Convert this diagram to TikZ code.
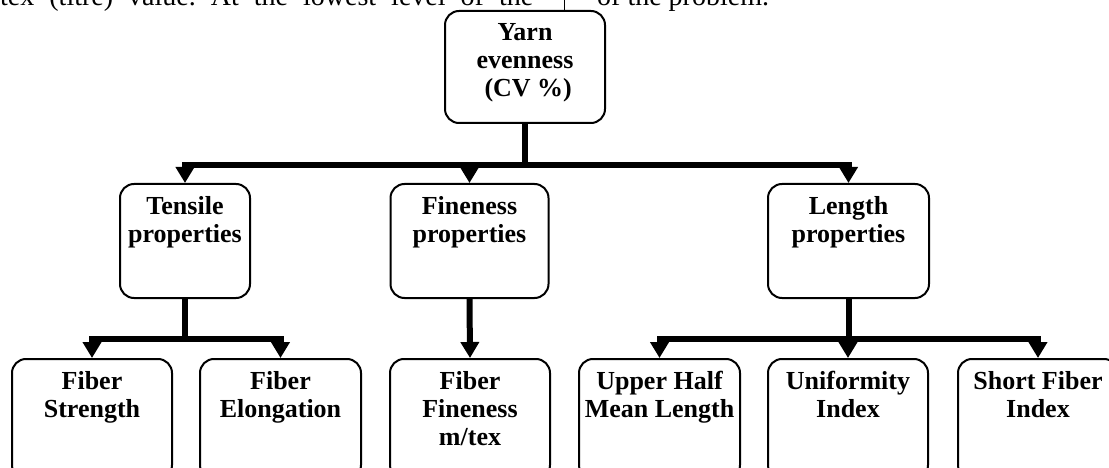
\documentclass[tikz,border=0pt]{standalone}
\usepackage{fontspec}
\setmainfont{Liberation Serif}
\usetikzlibrary{arrows.meta}
\frenchspacing

% box content: width, height, lines (first baseline 30pt below the top edge)
\newcommand\boxlines[3]{\parbox[c][#2][t]{#1}{\centering\rule{0pt}{30pt}#3}}

\tikzset{
  prop/.style={draw, line width=2pt, rounded corners=14pt, inner sep=0pt,
    anchor=north, font=\bfseries\fontsize{26}{28}\selectfont},
  link/.style={line width=6pt, -{Triangle[length=16pt,width=18pt]}},
  bodytext/.style={anchor=base west, inner sep=0pt, font=\fontsize{28}{32}\selectfont},
}

\begin{document}
\begin{tikzpicture}[x=1pt,y=-1pt]
\useasboundingbox (0,0) rectangle (1109,468);
\clip (0,0) rectangle (1109,468);

% running text of the page above the chart
\node[bodytext] (lefttext) at (0,5.5) {\makebox[533pt][s]{tex (titre) value. At the lowest level of the}};
\node[bodytext] (righttext) at (597,5.5) {of the problem.};
\coordinate (sepTop) at (564.5,0);
\coordinate (sepBot) at (564.5,10);
\draw[line width=1.2pt] (sepTop) -- (sepBot);

% top level
\node[prop] (root) at (525,10) {\boxlines{160pt}{112pt}{Yarn\\evenness\\~(CV \%)}};

% middle level
\node[prop] (tensile)  at (185,183)   {\boxlines{130pt}{114pt}{Tensile\\properties}};
\node[prop] (fineness) at (469.5,183) {\boxlines{158pt}{114pt}{Fineness\\properties}};
\node[prop] (length)   at (848.5,183) {\boxlines{161pt}{114pt}{Length\\properties}};

% lowest level
\node[prop] (strength)   at (92,358)    {\boxlines{160pt}{120pt}{Fiber\\Strength}};
\node[prop] (elongation) at (280.5,358) {\boxlines{161pt}{120pt}{Fiber\\Elongation}};
\node[prop] (fibfine)    at (470,358)   {\boxlines{160pt}{120pt}{Fiber\\Fineness\\m/tex}};
\node[prop] (uhml)       at (659.5,358) {\boxlines{161pt}{120pt}{Upper Half\\Mean Length}};
\node[prop] (ui)         at (848,358)   {\boxlines{160pt}{120pt}{Uniformity\\Index}};
\node[prop] (sfi)        at (1038,358)  {\boxlines{160pt}{120pt}{Short Fiber\\Index}};

% connectors
\draw[link] (root.south) -- ++(0,41) -| (tensile.north);
\draw[link] (root.south) -- ++(0,41) -| (fineness.north);
\draw[link] (root.south) -- ++(0,41) -| (length.north);

\draw[link] (tensile.south) -- ++(0,39.5) -| (strength.north);
\draw[link] (tensile.south) -- ++(0,39.5) -| (elongation.north);

\draw[link] (fineness.south) -- (fibfine.north);

\draw[link] (length.south) -- ++(0,39.5) -| (uhml.north);
\draw[link] (length.south) -- ++(0,39.5) -| (ui.north);
\draw[link] (length.south) -- ++(0,39.5) -| (sfi.north);
\end{tikzpicture}
\end{document}
